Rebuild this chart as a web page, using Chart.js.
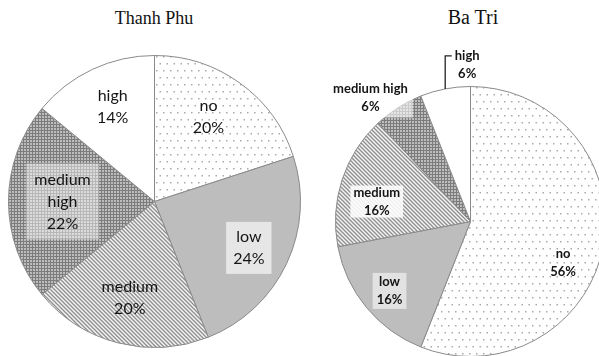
<!DOCTYPE html>
<html><head><meta charset="utf-8">
<script src="https://cdn.jsdelivr.net/npm/chart.js@4/dist/chart.umd.min.js"></script>
<style>
html,body{margin:0;padding:0;background:#fff;width:599px;height:356px;overflow:hidden;position:relative}
.t{position:absolute;font-family:"Liberation Serif","Times New Roman",serif;font-size:18px;color:#111;text-align:center;width:200px;top:8px;line-height:21px}
.c{position:absolute}
</style></head><body>
<div class="t" style="left:54px">Thanh Phu</div>
<div class="t" style="left:373px;font-size:20px;top:7px">Ba Tri</div>
<div class="c" style="left:8px;top:55px;width:293px;height:293px"><canvas id="c1"></canvas></div>
<div class="c" style="left:300px;top:30px;width:320px;height:327px"><canvas id="c2"></canvas></div>
<script>
// ---- data ----
const categories = ['no', 'low', 'medium', 'medium high', 'high'];
const thanhPhuValues = [20, 24, 20, 22, 14];
const baTriValues = [56, 16, 16, 6, 6];
const chartTitles = ['Thanh Phu', 'Ba Tri'];

// ---- patterns ----
function tile(w, h, draw) {
  const c = document.createElement('canvas');
  c.width = w; c.height = h;
  const x = c.getContext('2d');
  draw(x);
  return x.createPattern(c, 'repeat');
}
const pDots = tile(7, 14, x => {
  x.fillStyle = '#fff'; x.fillRect(0, 0, 7, 14);
  x.fillStyle = '#a9a9a9';
  x.fillRect(1, 1, 1.5, 1.5);
  x.fillRect(4.5, 8, 1.5, 1.5);
});
const pLow = '#bdbdbd';
const pStripes = tile(4, 4, x => {
  x.fillStyle = '#f4f4f4'; x.fillRect(0, 0, 4, 4);
  x.strokeStyle = '#8f8f8f'; x.lineWidth = 1.3;
  x.beginPath(); x.moveTo(-1, -1); x.lineTo(5, 5); x.stroke();
  x.beginPath(); x.moveTo(-1, 3); x.lineTo(1, 5); x.stroke();
  x.beginPath(); x.moveTo(3, -1); x.lineTo(5, 1); x.stroke();
});
const pChecker = tile(3, 3, x => {
  x.fillStyle = '#7c7c7c'; x.fillRect(0, 0, 3, 3);
  x.fillStyle = '#bdbdbd'; x.fillRect(1, 1, 2, 2);
});
const sliceFills = [pDots, pLow, pStripes, pChecker, '#ffffff'];

// ---- label plugin ----
const sliceLabels = {
  id: 'sliceLabels',
  afterDatasetsDraw(chart, args, opts) {
    const ctx = chart.ctx;
    const meta = chart.getDatasetMeta(0);
    const labels = chart.data.labels;
    const vals = chart.data.datasets[0].data;
    ctx.save();
    ctx.font = opts.font;
    ctx.textAlign = 'center';
    ctx.textBaseline = 'middle';
    meta.data.forEach((arc, i) => {
      const s = opts.spec[i];
      const midBase = (arc.startAngle + arc.endAngle) / 2;
      const R = arc.outerRadius;
      let lines = s.split ? labels[i].split(' ') : [labels[i]];
      lines = lines.concat([vals[i] + '%']);
      const lh = opts.lineHeight;
      let cx, cy;
      if (s.leader) {
        const ex = arc.x + Math.cos(midBase) * R, ey = arc.y + Math.sin(midBase) * R;
        cx = ex + s.dx; cy = ey + s.dy;
        const firstY = cy - lh * (lines.length - 1) / 2;
        const w0 = ctx.measureText(lines[0]).width;
        ctx.strokeStyle = '#222'; ctx.lineWidth = 1.3;
        ctx.beginPath();
        ctx.moveTo(ex, ey); ctx.lineTo(ex, firstY); ctx.lineTo(cx - w0 / 2 - 3, firstY);
        ctx.stroke();
      } else {
        const mid = midBase + (s.da || 0) * Math.PI / 180;
        cx = arc.x + Math.cos(mid) * R * s.r;
        cy = arc.y + Math.sin(mid) * R * s.r;
      }
      const widths = lines.map(l => ctx.measureText(l).width);
      const bw = Math.max(...widths), bh = lh * lines.length;
      if (s.box) {
        ctx.fillStyle = s.box;
        ctx.fillRect(cx - bw / 2 - s.pad[0], cy - bh / 2 - s.pad[1], bw + 2 * s.pad[0], bh + 2 * s.pad[1]);
      }
      ctx.fillStyle = '#151515';
      lines.forEach((l, k) => {
        ctx.fillText(l, cx, cy - bh / 2 + lh * (k + 0.5));
      });
    });
    ctx.restore();
  }
};

function makePie(id, values, padding, labelOpts) {
  return new Chart(document.getElementById(id), {
    type: 'pie',
    data: {
      labels: categories,
      datasets: [{
        data: values,
        backgroundColor: sliceFills,
        borderColor: '#8a8a8a',
        borderWidth: 1,
        hoverOffset: 0
      }]
    },
    options: {
      responsive: true,
      maintainAspectRatio: false,
      animation: false,
      events: [],
      layout: { padding: padding },
      plugins: {
        legend: { display: false },
        tooltip: { enabled: false },
        title: { display: false },
        sliceLabels: labelOpts
      }
    },
    plugins: [sliceLabels]
  });
}

makePie('c1', thanhPhuValues, 0, {
  font: '16px Lato, "Open Sans", sans-serif',
  lineHeight: 22,
  spec: [
    { r: 0.69, da: -3.6 },
    { r: 0.72, da: 1, box: '#e6e6e6', pad: [7, 4] },
    { r: 0.68 },
    { r: 0.63, split: true, box: 'rgba(255,255,255,0.45)', pad: [8, 5] },
    { r: 0.71, da: 1.4 }
  ]
});

makePie('c2', baTriValues, { left: 35, top: 56, right: 14, bottom: 0 }, {
  font: 'bold 13px Lato, "Open Sans", sans-serif',
  lineHeight: 18,
  spec: [
    { r: 0.75, da: 13 },
    { r: 0.79, da: -1, box: '#e2e2e2', pad: [4, 0] },
    { r: 0.71, da: -6, box: 'rgba(255,255,255,0.85)', pad: [3, -2] },
    { r: 1.18, da: -6.5, box: 'rgba(255,255,255,0.6)', pad: [5, 2] },
    { leader: true, dx: 22, dy: -24 }
  ]
});
</script>
</body></html>
